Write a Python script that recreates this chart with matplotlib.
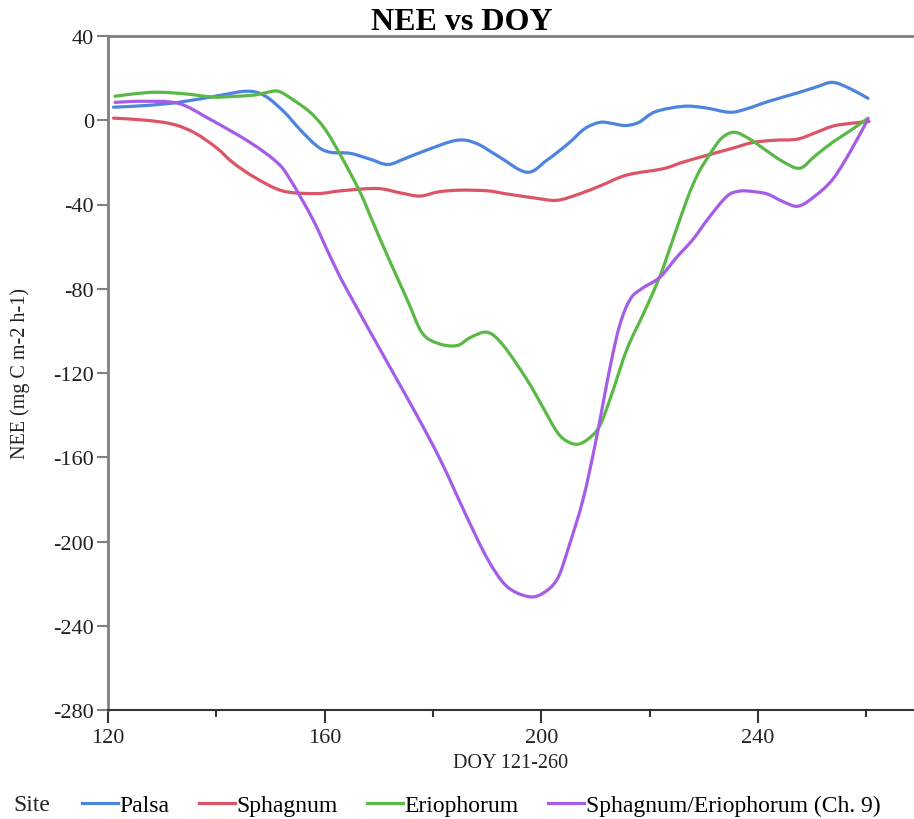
import numpy as np
import matplotlib
matplotlib.use('Agg')
import matplotlib.pyplot as plt
from matplotlib.ticker import MultipleLocator
from matplotlib.path import Path
from matplotlib.patches import PathPatch

plt.rcParams['font.family'] = ['Liberation Serif', 'DejaVu Serif']
plt.rcParams['axes.unicode_minus'] = False

# data (DOY, NEE)
palsaX = [121, 127, 133, 140, 145.7, 149, 152.5, 155.4, 158.6, 161, 164.7, 168.4, 171.7, 175, 179,
          184.4, 188, 192, 197.3, 201, 205, 208, 210.8, 213, 215.5, 218, 221, 226.1, 230, 234.8,
          238, 242, 247.7, 251, 253.8, 257, 260.3]
palsaY = [6.2, 7, 8.5, 11.5, 13.8, 11.5, 4, -4.3, -12.3, -15.2, -15.7, -18.5, -21, -18, -14,
          -9.5, -11, -17, -24.7, -19, -11, -4, -1, -1.5, -2.5, -1, 4, 6.6, 6, 3.8,
          5.5, 9, 13.3, 16, 18, 15, 10.4]

sphagX = [121, 127, 132, 136, 140, 143, 147, 152.3, 158.6, 163, 169.7, 174, 177.6, 181, 185,
          190, 193.7, 199, 202.9, 207, 211, 215.8, 222.5, 226, 230.6, 235, 239, 243, 247.2,
          250.5, 253.8, 257, 260.5]
sphagY = [1, 0, -1.9, -6, -13, -20, -27, -33.6, -34.8, -33.5, -32.4, -34.5, -36, -34, -33.2,
          -33.5, -35, -37, -38, -35, -31, -26, -23, -20, -16.6, -13.5, -10.6, -9.5, -9,
          -6, -2.8, -1.5, -0.6]

erioX = [121.3, 125, 129, 134, 139.4, 143, 146.8, 149, 151.4, 154, 157.3, 160, 162.8, 166.5,
         169, 171.7, 175.2, 178, 181, 184.4, 187, 190.1, 193, 197.3, 200, 202.9, 204.8,
         206.8, 208.8, 210.8, 213, 215.8, 219, 221.9, 223.7, 226.9, 229, 231.7, 233.5, 235.7,
         238.5, 241.7, 244.5, 247.7, 250.5, 253.8, 257, 260.3]
erioY = [11.4, 12.6, 13.3, 12.6, 11, 11.3, 11.9, 13, 13.8, 10, 3.8, -4, -16, -34,
         -49, -65, -85, -101, -106, -107, -103, -100.7, -107, -123, -135, -148, -152.5,
         -153.8, -151, -145, -130, -108.7, -91, -74, -61, -37.5, -25, -13.8, -8, -5.7,
         -9, -14.7, -19.5, -22.8, -17, -10.4, -5, 1]

mixX = [121.3, 126.5, 133, 138.8, 146.2, 151.2, 153.6, 157.8, 161, 164,
        172, 177, 181.5, 186, 190, 193.5, 197.3, 200, 202.9, 205, 207.7,
        210, 212.7, 214.5, 216.4, 218.5, 221.9, 225, 228, 231, 234.3, 236.5, 238.5, 241.7,
        244.5, 247.4, 250.5, 253.8, 257, 260.3]
mixY = [8.5, 9, 8, 0.5, -10.5, -20, -28, -47, -64.6, -80,
        -117, -140, -162, -187, -208, -221, -226, -225, -218, -203, -180,
        -153, -117, -97, -85, -80, -74.5, -65, -56.5, -46, -36, -33.7, -33.7, -35,
        -38.5, -40.8, -36, -28, -15, 0.5]

siteNames = ['Palsa', 'Sphagnum', 'Eriophorum', 'Sphagnum/Eriophorum (Ch. 9)']
siteColors = ['#4C84DE', '#DC5566', '#5AB946', '#A55DE8']


def smoothPath(xs, ys):
    # catmull-rom through the points, drawn as bezier segments
    p = np.column_stack([xs, ys]).astype(float)
    verts = [p[0]]
    codes = [Path.MOVETO]
    n = len(p)
    for i in range(n - 1):
        p0 = p[i - 1] if i > 0 else p[i]
        p3 = p[i + 2] if i + 2 < n else p[i + 1]
        c1 = p[i] + (p[i + 1] - p0) / 6.0
        c2 = p[i + 1] - (p3 - p[i]) / 6.0
        verts += [c1, c2, p[i + 1]]
        codes += [Path.CURVE4] * 3
    return Path(verts, codes)


fig = plt.figure(figsize=[9.14, 8.2], dpi=100)
ax = fig.add_axes([108/914, 1 - 711/820, 1 - 108/914, (711 - 37)/820])

series = [(palsaX, palsaY), (sphagX, sphagY), (erioX, erioY), (mixX, mixY)]
for (sx, sy), name, col in zip(series, siteNames, siteColors):
    ax.add_patch(PathPatch(smoothPath(sx, sy), fill=False, edgecolor=col, lw=2.3,
                           capstyle='round', joinstyle='round'))
    ax.plot([], [], color=col, lw=2.3, label=name)

ax.set_xlim(120, 120 + (914 - 108)/5.417)
ax.set_ylim(-280, 40)
ax.xaxis.set_major_locator(MultipleLocator(40))
ax.xaxis.set_minor_locator(MultipleLocator(20))
ax.yaxis.set_major_locator(MultipleLocator(40))

ax.spines['right'].set_visible(False)
for s in ['top', 'left']:
    ax.spines[s].set_color('#808080')
    ax.spines[s].set_linewidth(2)
ax.spines['bottom'].set_color('#333333')
ax.spines['bottom'].set_linewidth(1.5)

ax.tick_params(axis='y', direction='out', length=8, width=1.5, color='#808080', labelsize=16,
               pad=2, labelcolor='#222222')
ax.tick_params(axis='x', which='major', direction='out', length=9, width=1.5, color='#333333',
               labelsize=16, pad=4, labelcolor='#222222')
ax.tick_params(axis='x', which='minor', direction='out', length=5, width=1.5, color='#333333')

ax.set_xlabel('DOY 121-260', fontsize=14.5, labelpad=4, color='#222222')
ax.set_ylabel('NEE (mg C m-2 h-1)', fontsize=14.5, color='#222222')
ax.yaxis.set_label_coords((30 - 108)/806, 0.5)
fig.text(462/914, 1 - 30/820, 'NEE vs DOY', fontsize=23, fontweight='bold', ha='center',
         va='baseline')

fig.text(13/914, 1 - 806/820, 'Site', fontsize=17, va='center', ha='left', color='#222222')
fig.legend(loc='center left', bbox_to_anchor=(82/914, 1 - 806/820), ncol=4, frameon=False,
           fontsize=17, handlelength=1.52, handletextpad=0.08, columnspacing=1.23, borderpad=0,
           borderaxespad=0)

plt.savefig('out.png', dpi=100)
